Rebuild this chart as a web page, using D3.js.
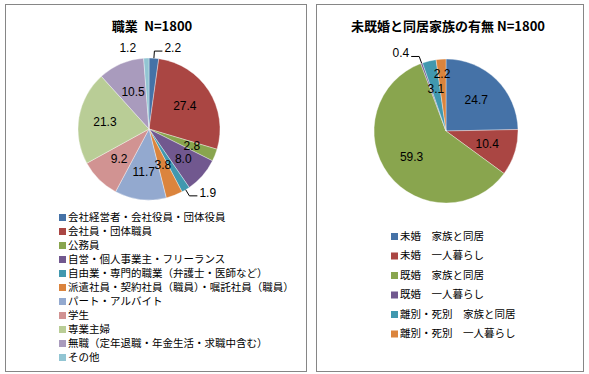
<!DOCTYPE html>
<html>
<head>
<meta charset="utf-8">
<script src="https://cdn.jsdelivr.net/npm/d3@7"></script>
<style>
  body { margin: 0; background: #fff; }
  svg { display: block; }
</style>
</head>
<body>
<div id="chart"></div>
<script>
// 職業
const jobTitle = "職業\u2002N=1800";
const jobLabels = [
  "会社経営者・会社役員・団体役員",
  "会社員・団体職員",
  "公務員",
  "自営・個人事業主・フリーランス",
  "自由業・専門的職業（弁護士・医師など）",
  "派遣社員・契約社員（職員）・嘱託社員（職員）",
  "パート・アルバイト",
  "学生",
  "専業主婦",
  "無職（定年退職・年金生活・求職中含む）",
  "その他",
];
const jobValues = [2.2, 27.4, 2.8, 8.0, 1.9, 3.8, 11.7, 9.2, 21.3, 10.5, 1.2];
const jobColors = ["#4572A7", "#AA4643", "#89A54E", "#71588F", "#4198AF", "#DB843D",
  "#93A9CF", "#D19392", "#B9CD96", "#A99BBD", "#92C5D3"];

// 未既婚と同居家族の有無
const livingTitle = "未既婚と同居家族の有無 N=1800";
const livingLabels = [
  "未婚\u3000家族と同居",
  "未婚\u3000一人暮らし",
  "既婚\u3000家族と同居",
  "既婚\u3000一人暮らし",
  "離別・死別\u3000家族と同居",
  "離別・死別\u3000一人暮らし",
];
const livingValues = [24.7, 10.4, 59.3, 0.4, 3.1, 2.2];
const livingColors = ["#4572A7", "#AA4643", "#89A54E", "#71588F", "#4198AF", "#DB843D"];

const width = 589;
const height = 374;
const numFont = "'Liberation Sans', Arial, 'Noto Sans CJK JP', sans-serif";
const jpFont = "'Noto Sans CJK JP', 'Liberation Sans', sans-serif";

const svg = d3.select("#chart")
  .append("svg")
  .attr("width", width)
  .attr("height", height);

function drawPanel(p) {
  // frame
  svg.append("rect")
    .attr("x", p.box[0] + 0.5)
    .attr("y", p.box[1] + 0.5)
    .attr("width", p.box[2])
    .attr("height", p.box[3])
    .attr("fill", "#fff")
    .attr("stroke", "#868686");

  svg.append("text")
    .attr("x", p.titleX)
    .attr("y", 31)
    .attr("text-anchor", "middle")
    .attr("font-family", jpFont)
    .attr("font-weight", "bold")
    .attr("font-size", "13px")
    .text(p.title);

  const pie = d3.pie().value((d) => d).sort(null);
  const arcs = pie(p.values);
  const arc = d3.arc().innerRadius(0).outerRadius(p.r);

  const g = svg.append("g").attr("transform", `translate(${p.cx},${p.cy})`);

  g.selectAll("path")
    .data(arcs)
    .enter()
    .append("path")
    .attr("d", arc)
    .attr("fill", (d, i) => p.colors[i])
    .attr("stroke", "#fff")
    .attr("stroke-opacity", 0.6)
    .attr("stroke-width", 0.6);

  // labels
  arcs.forEach((d, i) => {
    const mode = p.labelPos[i];
    const mid = (d.startAngle + d.endAngle) / 2;
    const sx = Math.sin(mid), sy = -Math.cos(mid);
    const label = d3.format(".1f")(d.data);
    if (typeof mode === "number") {
      g.append("text")
        .attr("x", sx * p.r * mode)
        .attr("y", sy * p.r * mode)
        .attr("text-anchor", "middle")
        .attr("dominant-baseline", "central")
        .attr("font-family", numFont)
        .attr("font-size", "12px")
        .attr("fill", "#000")
        .text(label);
    } else {
      const side = sx >= 0 ? 1 : -1;
      const ex = sx * p.r * 1.1, ey = sy * p.r * 1.1;
      const hx = ex + side * 8;
      if (mode === "leader") {
        g.append("path")
          .attr("d", `M${sx * p.r},${sy * p.r}L${ex},${ey}L${hx},${ey}`)
          .attr("fill", "none")
          .attr("stroke", "#000")
          .attr("stroke-width", 1);
      }
      g.append("text")
        .attr("x", hx + side * 2)
        .attr("y", ey - 3)
        .attr("text-anchor", side > 0 ? "start" : "end")
        .attr("dominant-baseline", "central")
        .attr("font-family", numFont)
        .attr("font-size", "12px")
        .attr("fill", "#000")
        .text(label);
    }
  });

  // legend
  const leg = svg.append("g");
  const rows = leg.selectAll("g")
    .data(p.labels)
    .enter()
    .append("g")
    .attr("transform", (d, i) => `translate(${p.legX},${p.legY + i * p.legStep})`);

  rows.append("rect")
    .attr("x", 0)
    .attr("y", -2)
    .attr("width", 7)
    .attr("height", 7)
    .attr("fill", (d, i) => p.colors[i]);

  rows.append("text")
    .attr("x", 9)
    .attr("y", 0)
    .attr("dominant-baseline", "central")
    .attr("font-family", jpFont)
    .attr("font-size", "10.5px")
    .attr("fill", "#000")
    .text((d) => d);
}

drawPanel({
  box: [5, 4, 301, 367],
  title: jobTitle,
  titleX: 152,
  cx: 149, cy: 129, r: 71,
  values: jobValues,
  colors: jobColors,
  labels: jobLabels,
  labelPos: ["leader", 0.6, 0.65, 0.64, "leader", 0.55, 0.61, 0.6, 0.63, 0.57, "plain"],
  legX: 59, legY: 216, legStep: 14,
});

drawPanel({
  box: [316, 4, 267, 367],
  title: livingTitle,
  titleX: 448,
  cx: 446, cy: 131, r: 72,
  values: livingValues,
  colors: livingColors,
  labels: livingLabels,
  labelPos: [0.6, 0.6, 0.6, "leader", 0.6, 0.8],
  legX: 391, legY: 235, legStep: 19.5,
});
</script>
</body>
</html>
